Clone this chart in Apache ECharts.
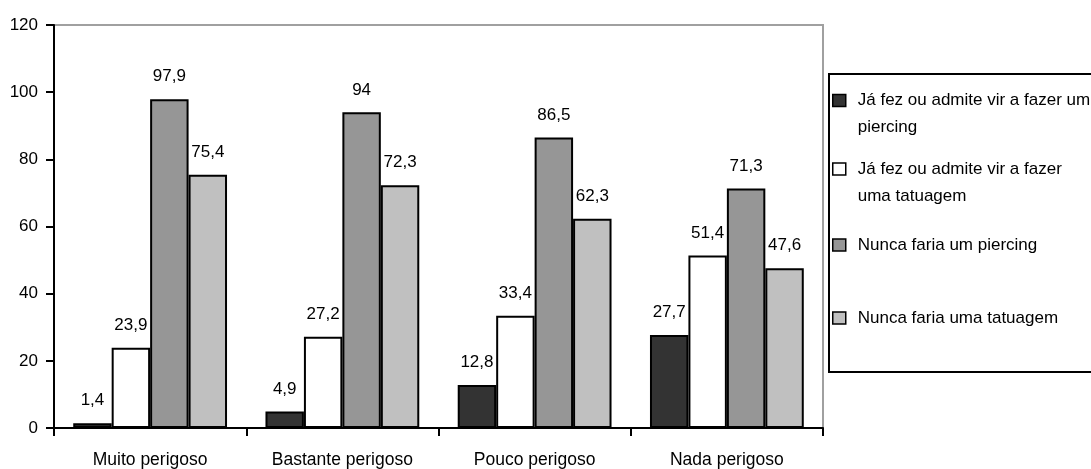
<!DOCTYPE html>
<html>
<head>
<meta charset="utf-8">
<script src="https://cdn.jsdelivr.net/npm/echarts@6/dist/echarts.min.js"></script>
<style>
  html, body { margin: 0; padding: 0; background: #fff; }
  #chart { width: 1091px; height: 469px; }
</style>
</head>
<body>
<div id="chart"></div>
<script>
// Perceived danger categories
const categories = ['Muito perigoso', 'Bastante perigoso', 'Pouco perigoso', 'Nada perigoso'];

// Series names
const seriesNames = [
  'Já fez ou admite vir a fazer um piercing',
  'Já fez ou admite vir a fazer uma tatuagem',
  'Nunca faria um piercing',
  'Nunca faria uma tatuagem'
];

// Values (%) per series
const fezPiercing   = [1.4, 4.9, 12.8, 27.7];
const fezTatuagem   = [23.9, 27.2, 33.4, 51.4];
const nuncaPiercing = [97.9, 94, 86.5, 71.3];
const nuncaTatuagem = [75.4, 72.3, 62.3, 47.6];

// Y axis ticks
const yTicks = [0, 20, 40, 60, 80, 100, 120];

// Legend text as wrapped lines; the leading blank line keeps the marker beside the first line
const legendLines = {
  'Já fez ou admite vir a fazer um piercing': '\nJá fez ou admite vir a fazer um\npiercing',
  'Já fez ou admite vir a fazer uma tatuagem': '\nJá fez ou admite vir a fazer\numa tatuagem',
  'Nunca faria um piercing': 'Nunca faria um piercing',
  'Nunca faria uma tatuagem': 'Nunca faria uma tatuagem'
};

const FONT = "'Liberation Sans', Arial, sans-serif";
const colors = ['#333333', '#ffffff', '#969696', '#c0c0c0'];
const values = [fezPiercing, fezTatuagem, nuncaPiercing, nuncaTatuagem];

const fmt = v => String(v).replace('.', ',');

const LH = 27;
const legendTops = [60, 128.5, 231.5, 304.5];

const legends = seriesNames.map((name, i) => ({
  data: [name],
  orient: 'vertical',
  left: 832,
  top: legendTops[i],
  padding: 0,
  icon: 'rect',
  itemWidth: 13,
  itemHeight: 12,
  itemStyle: { borderColor: '#000', borderWidth: 1.5 },
  formatter: n => legendLines[n],
  selectedMode: false,
  textStyle: {
    fontFamily: FONT,
    fontSize: 17,
    color: '#000',
    lineHeight: LH,
    padding: [0, 0, 0, 7]
  }
}));

const chart = echarts.init(document.getElementById('chart'), null, { renderer: 'canvas' });

chart.setOption({
  animation: false,
  backgroundColor: '#fff',
  textStyle: { fontFamily: FONT },
  graphic: [{
    type: 'rect',
    z: -1,
    shape: { x: 829, y: 74, width: 320, height: 298 },
    style: { fill: '#fff', stroke: '#000', lineWidth: 2 }
  }],
  legend: legends,
  grid: {
    left: 54, right: 268, top: 25, bottom: 41,
    show: true,
    borderColor: '#a0a0a0',
    borderWidth: 2,
    backgroundColor: '#fff'
  },
  xAxis: {
    type: 'category',
    data: categories,
    axisLine: { lineStyle: { color: '#000', width: 2 } },
    axisTick: { show: true, interval: 0, length: 8, lineStyle: { color: '#000', width: 2 } },
    axisLabel: { color: '#000', fontSize: 17.5, margin: 23, interval: 0, fontFamily: FONT }
  },
  yAxis: {
    type: 'value',
    min: yTicks[0],
    max: yTicks[yTicks.length - 1],
    interval: yTicks[1] - yTicks[0],
    axisLine: { show: true, lineStyle: { color: '#000', width: 2 } },
    axisTick: { show: true, length: 8, lineStyle: { color: '#000', width: 2 } },
    axisLabel: { color: '#000', fontSize: 17, margin: 16, fontFamily: FONT },
    splitLine: { show: false }
  },
  series: seriesNames.map((name, i) => ({
    name,
    type: 'bar',
    data: values[i],
    barGap: '0%',
    barCategoryGap: '20%',
    itemStyle: { color: colors[i], borderColor: '#000', borderWidth: 2 },
    label: {
      show: true,
      position: 'top',
      distance: 14,
      color: '#000',
      fontSize: 17,
      fontFamily: FONT,
      formatter: p => fmt(p.value)
    }
  }))
});
</script>
</body>
</html>
